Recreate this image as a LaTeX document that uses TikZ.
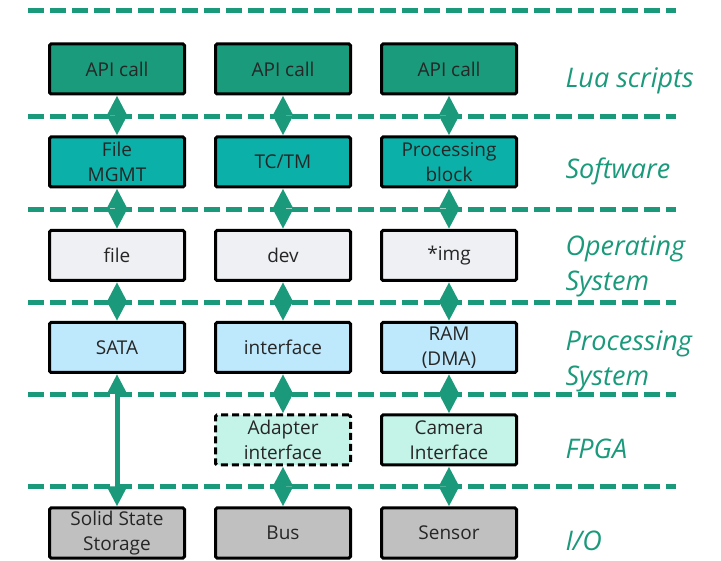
\documentclass[tikz,border=0pt]{standalone}
\usepackage{fontspec}
\setmainfont{Open Sans}
\usetikzlibrary{arrows.meta}
\definecolor{lgreen}{HTML}{1A9A7A}
\definecolor{apic}{HTML}{1A9B7C}
\definecolor{swc}{HTML}{0BB1A9}
\definecolor{osc}{HTML}{EEF0F3}
\definecolor{psc}{HTML}{BEE8FB}
\definecolor{fpc}{HTML}{C4F4E8}
\definecolor{ioc}{HTML}{C0C0C0}
\tikzset{
  sep/.style={draw=lgreen, line width=5pt, dash pattern=on 16pt off 6pt},
  box/.style={draw=black, line width=3pt, rounded corners=1.5pt, minimum width=135pt, minimum height=50pt, inner sep=0pt, align=center, font=\fontsize{19}{25}\selectfont, text=black!85},
  dia/.style={draw=lgreen, line width=5pt, {Triangle[width=19pt,length=20pt]}-{Triangle[width=19pt,length=20pt]}},
  lay/.style={anchor=west, align=left, text=lgreen, font=\fontsize{27}{35}\selectfont\itshape},
}
\begin{document}
\begin{tikzpicture}[x=1pt,y=-1pt]
\useasboundingbox (0,0) rectangle (721,561);
% separators
\foreach \yy in {11,117,210,303,395,487} \draw[sep] (28,\yy) -- (676,\yy);
% row 1
\node[box, fill=apic] (a1) at (117,69) {API call};
\node[box, fill=apic] (a2) at (283,69) {API call};
\node[box, fill=apic] (a3) at (449,69) {API call};
% row 2
\node[box, fill=swc] (b1) at (117,162) {File\\MGMT};
\node[box, fill=swc] (b2) at (283,162) {TC/TM};
\node[box, fill=swc] (b3) at (449,162) {Processing\\block};
% row 3
\node[box, fill=osc] (c1) at (117,255.5) {file};
\node[box, fill=osc] (c2) at (283,255.5) {dev};
\node[box, fill=osc] (c3) at (449,255.5) {*img};
% row 4
\node[box, fill=psc] (d1) at (117,347.5) {SATA};
\node[box, fill=psc] (d2) at (283,347.5) {interface};
\node[box, fill=psc] (d3) at (449,347.5) {RAM\\(DMA)};
% row 5
\node[box, fill=fpc, dash pattern=on 7pt off 4pt] (e2) at (283,440) {Adapter\\interface};
\node[box, fill=fpc] (e3) at (449,440) {Camera\\Interface};
% row 6
\node[box, fill=ioc] (f1) at (117,533) {Solid State\\Storage};
\node[box, fill=ioc] (f2) at (283,533) {Bus};
\node[box, fill=ioc] (f3) at (449,533) {Sensor};
% connectors
\draw[dia] (a1) -- (b1);
\draw[dia] (b1) -- (c1);
\draw[dia] (c1) -- (d1);
\draw[dia] (d1) -- (f1);
\draw[dia] (a2) -- (b2);
\draw[dia] (b2) -- (c2);
\draw[dia] (c2) -- (d2);
\draw[dia] (d2) -- (e2);
\draw[dia] (e2) -- (f2);
\draw[dia] (a3) -- (b3);
\draw[dia] (b3) -- (c3);
\draw[dia] (c3) -- (d3);
\draw[dia] (d3) -- (e3);
\draw[dia] (e3) -- (f3);
% layer labels
\node[lay] (l1) at (562,81) {Lua scripts};
\node[lay] (l2) at (562,171) {Software};
\node[lay] (l3) at (562,266) {Operating\\System};
\node[lay] (l4) at (562,361) {Processing\\System};
\node[lay] (l5) at (562,449) {FPGA};
\node[lay] (l6) at (562,541) {I/O};
\end{tikzpicture}
\end{document}
